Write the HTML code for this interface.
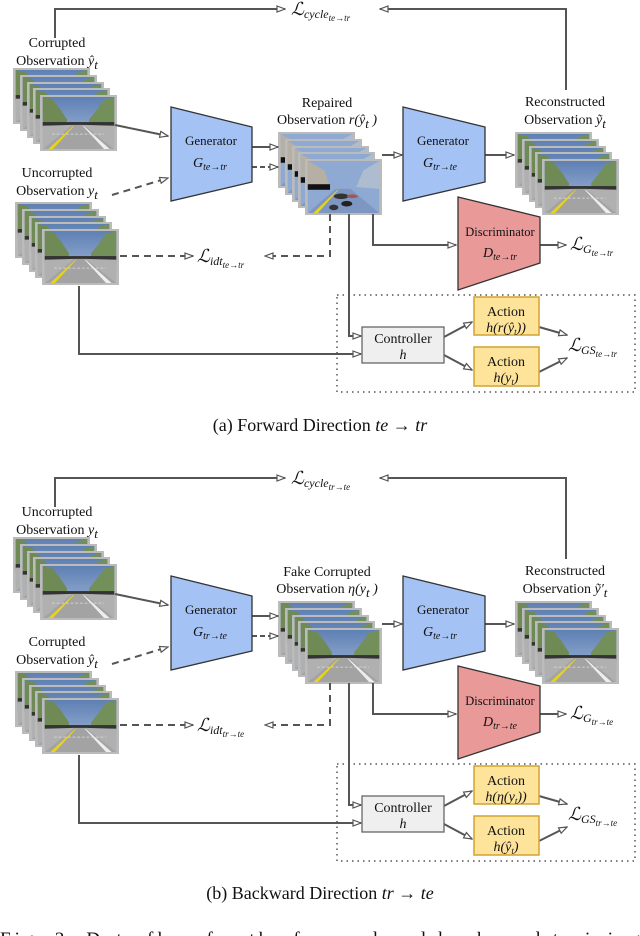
<!DOCTYPE html>
<html><head><meta charset="utf-8"><style>
html,body{margin:0;padding:0;background:#fff;width:640px;height:936px;overflow:hidden}
svg{display:block}
text{font-family:"Liberation Serif",serif;fill:#111}
.m{font-style:italic}
.s{font-size:13px}
</style></head><body>
<svg width="640" height="936" viewBox="0 0 640 936" xmlns="http://www.w3.org/2000/svg">
<defs>
<marker id="ar" markerWidth="10" markerHeight="8" refX="9" refY="4" orient="auto" markerUnits="userSpaceOnUse">
<path d="M1,1 L9,4 L1,7 Z" fill="#fff" stroke="#555" stroke-width="1.2"/></marker>
<linearGradient id="sky" x1="0" y1="0" x2="0" y2="1"><stop offset="0" stop-color="#5f80b4"/><stop offset="1" stop-color="#a9bddb"/></linearGradient>
<symbol id="road" viewBox="0 0 77 56">
<rect width="77" height="56" fill="url(#sky)"/>
<path d="M0,0 L10,2 L18,12 L26,24 L26,30 L0,34 Z" fill="#6f8a55"/>
<path d="M77,0 L66,3 L58,14 L50,24 L50,30 L77,34 Z" fill="#73905a"/>
<rect x="0" y="27" width="77" height="4" fill="#333"/>
<path d="M0,56 L32,30 L44,30 L77,56 Z" fill="#a3a3a3"/>
<path d="M0,31 L32,30 L0,56 Z" fill="#b0b0b0"/>
<path d="M77,31 L44,30 L77,56 Z" fill="#b0b0b0"/>
<path d="M6,56 L33,31 L34,31 L11,56 Z" fill="#e8d21a"/>
<path d="M66,56 L43,31 L44,31 L72,56 Z" fill="#eee"/>
<path d="M10,40 L66,40" stroke="#ddd" stroke-width="0.8" stroke-dasharray="3,2"/>
</symbol>
<symbol id="noisy" viewBox="0 0 77 56">
<rect width="77" height="56" fill="#8ea9d2"/>
<path d="M0,0 L18,10 L24,28 L0,30 Z" fill="#c6b38e" opacity="0.7"/>
<path d="M77,0 L60,10 L52,28 L77,30 Z" fill="#b7c0cf" opacity="0.8"/>
<rect x="0" y="25" width="24" height="6" fill="#111"/>
<path d="M0,56 L30,30 L46,30 L77,56 Z" fill="#7d96c2"/>
<path d="M6,56 L32,31 L33,31 L11,56 Z" fill="#e8d21a"/>
<ellipse cx="36" cy="38" rx="8" ry="3" fill="#333"/>
<ellipse cx="42" cy="46" rx="6" ry="3" fill="#222"/>
<ellipse cx="28" cy="50" rx="5" ry="3" fill="#333"/>
<ellipse cx="48" cy="38" rx="6" ry="2" fill="#a55"/>
</symbol>
<g id="stackR">
<rect x="0" y="0" width="77" height="56" fill="#bbb"/><use href="#road" x="2" y="2" width="73" height="52"/>
<rect x="7" y="7" width="77" height="56" fill="#bbb"/><use href="#road" x="9" y="9" width="73" height="52"/>
<rect x="14" y="14" width="77" height="56" fill="#bbb"/><use href="#road" x="16" y="16" width="73" height="52"/>
<rect x="20" y="20" width="77" height="56" fill="#bbb"/><use href="#road" x="22" y="22" width="73" height="52"/>
<rect x="27" y="27" width="77" height="56" fill="#bbb"/><use href="#road" x="29" y="29" width="73" height="52"/>
</g>
<g id="stackN">
<rect x="0" y="0" width="77" height="56" fill="#bbb"/><use href="#noisy" x="2" y="2" width="73" height="52"/>
<rect x="7" y="7" width="77" height="56" fill="#bbb"/><use href="#noisy" x="9" y="9" width="73" height="52"/>
<rect x="14" y="14" width="77" height="56" fill="#bbb"/><use href="#noisy" x="16" y="16" width="73" height="52"/>
<rect x="20" y="20" width="77" height="56" fill="#bbb"/><use href="#noisy" x="22" y="22" width="73" height="52"/>
<rect x="27" y="27" width="77" height="56" fill="#bbb"/><use href="#noisy" x="29" y="29" width="73" height="52"/>
</g>
<g id="common" stroke="#555" stroke-width="2" fill="none">
<polyline points="55,38 55,9 285,9" marker-end="url(#ar)"/>
<polyline points="566,90 566,9 380,9" marker-end="url(#ar)"/>
<line x1="115" y1="125" x2="168" y2="136" marker-end="url(#ar)"/>
<line x1="112" y1="195" x2="168" y2="178" stroke-dasharray="7,5" marker-end="url(#ar)"/>
<line x1="252" y1="147" x2="278" y2="147" marker-end="url(#ar)"/>
<line x1="252" y1="167" x2="278" y2="167" stroke-dasharray="5,3" marker-end="url(#ar)"/>
<line x1="120" y1="256" x2="193" y2="256" stroke-dasharray="7,5" marker-end="url(#ar)"/>
<polyline points="330,214 330,256 265,256" stroke-dasharray="7,5" marker-end="url(#ar)"/>
<line x1="382" y1="155" x2="402" y2="155" marker-end="url(#ar)"/>
<line x1="485" y1="155" x2="514" y2="155" marker-end="url(#ar)"/>
<polyline points="373,214 373,245 456,245" marker-end="url(#ar)"/>
<line x1="540" y1="245" x2="566" y2="245" marker-end="url(#ar)"/>
<polyline points="349,214 349,336 361,336" marker-end="url(#ar)"/>
<polyline points="79,286 79,354 361,354" marker-end="url(#ar)"/>
<line x1="444" y1="337" x2="472" y2="322" marker-end="url(#ar)"/>
<line x1="444" y1="355" x2="472" y2="370" marker-end="url(#ar)"/>
<line x1="539" y1="327" x2="567" y2="335" marker-end="url(#ar)"/>
<line x1="539" y1="372" x2="567" y2="358" marker-end="url(#ar)"/>
<rect x="337" y="295" width="298" height="97" stroke="#555" stroke-width="1.5" stroke-dasharray="1.5,4"/>
<polygon points="171,107 252,127 252,182 171,201" fill="#a4c2f4" stroke="#333" stroke-width="1.3"/>
<polygon points="403,107 485,127 485,182 403,201" fill="#a4c2f4" stroke="#333" stroke-width="1.3"/>
<polygon points="458,197 540,217 540,263 458,290" fill="#ea9999" stroke="#333" stroke-width="1.3"/>
<rect x="362" y="327" width="82" height="36" fill="#efefef" stroke="#666" stroke-width="1.3"/>
<rect x="474" y="297" width="65" height="38" fill="#fde49a" stroke="#d1a431" stroke-width="1.5"/>
<rect x="474" y="347" width="65" height="39" fill="#fde49a" stroke="#d1a431" stroke-width="1.5"/>
</g>
<g id="ctext" font-size="14">
<text x="211" y="145" text-anchor="middle" font-size="13">Generator</text>
<text x="443" y="145" text-anchor="middle" font-size="13">Generator</text>
<text x="500" y="236" text-anchor="middle" font-size="12.5">Discriminator</text>
<text x="403" y="343" text-anchor="middle">Controller</text>
<text x="403" y="359" text-anchor="middle" class="m">h</text>
<text x="506" y="316" text-anchor="middle">Action</text>
<text x="506" y="366" text-anchor="middle">Action</text>
</g>
</defs>

<use href="#stackR" x="13" y="68"/>
<use href="#stackR" x="15" y="202"/>
<use href="#stackN" x="278" y="132"/>
<use href="#stackR" x="515" y="132"/>
<use href="#common"/>
<use href="#ctext"/>
<g font-size="14">
<text x="57" y="47" text-anchor="middle">Corrupted</text>
<text x="57" y="65" text-anchor="middle">Observation <tspan class="m">ŷ</tspan><tspan class="m s" dy="4">t</tspan></text>
<text x="57" y="177" text-anchor="middle">Uncorrupted</text>
<text x="57" y="195" text-anchor="middle">Observation <tspan class="m">y</tspan><tspan class="m s" dy="4">t</tspan></text>
<text x="327" y="107" text-anchor="middle">Repaired</text>
<text x="327" y="124" text-anchor="middle">Observation <tspan class="m">r(ŷ</tspan><tspan class="m s" dy="4">t</tspan><tspan class="m" dy="-4"> )</tspan></text>
<text x="565" y="106" text-anchor="middle">Reconstructed</text>
<text x="565" y="124" text-anchor="middle">Observation <tspan class="m">ỹ</tspan><tspan class="m s" dy="4">t</tspan></text>
<text x="210" y="167" text-anchor="middle" class="m">G<tspan font-size="10" dy="3">te→tr</tspan></text>
<text x="440" y="167" text-anchor="middle" class="m">G<tspan font-size="10" dy="3">tr→te</tspan></text>
<text x="500" y="257" text-anchor="middle" class="m">D<tspan font-size="10" dy="3">te→tr</tspan></text>
<text x="506" y="332" text-anchor="middle" class="m">h(r(ŷ<tspan font-size="9" dy="3">t</tspan><tspan dy="-3">))</tspan></text>
<text x="506" y="382" text-anchor="middle" class="m">h(y<tspan font-size="9" dy="3">t</tspan><tspan dy="-3">)</tspan></text>
<text x="291" y="15" font-size="18" class="m">ℒ<tspan font-size="12" dy="3">cycle</tspan><tspan font-size="9" dy="3">te→tr</tspan></text>
<text x="197" y="262" font-size="18" class="m">ℒ<tspan font-size="12" dy="3">idt</tspan><tspan font-size="9" dy="3">te→tr</tspan></text>
<text x="570" y="250" font-size="18" class="m">ℒ<tspan font-size="12" dy="3">G</tspan><tspan font-size="9" dy="3">te→tr</tspan></text>
<text x="568" y="351" font-size="18" class="m">ℒ<tspan font-size="12" dy="3">GS</tspan><tspan font-size="9" dy="3">te→tr</tspan></text>
<text x="320" y="431" text-anchor="middle" font-size="18">(a) Forward Direction <tspan class="m">te</tspan> → <tspan class="m">tr</tspan></text>
</g>

<g transform="translate(0,469)">
<use href="#stackR" x="13" y="68"/>
<use href="#stackR" x="15" y="202"/>
<use href="#stackR" x="278" y="132"/>
<use href="#stackR" x="515" y="132"/>
<use href="#common"/>
<use href="#ctext"/>
<g font-size="14">
<text x="57" y="47" text-anchor="middle">Uncorrupted</text>
<text x="57" y="65" text-anchor="middle">Observation <tspan class="m">y</tspan><tspan class="m s" dy="4">t</tspan></text>
<text x="57" y="177" text-anchor="middle">Corrupted</text>
<text x="57" y="195" text-anchor="middle">Observation <tspan class="m">ŷ</tspan><tspan class="m s" dy="4">t</tspan></text>
<text x="327" y="107" text-anchor="middle">Fake Corrupted</text>
<text x="327" y="124" text-anchor="middle">Observation <tspan class="m">η(y</tspan><tspan class="m s" dy="4">t</tspan><tspan class="m" dy="-4"> )</tspan></text>
<text x="565" y="106" text-anchor="middle">Reconstructed</text>
<text x="565" y="124" text-anchor="middle">Observation <tspan class="m">ỹ′</tspan><tspan class="m s" dy="4">t</tspan></text>
<text x="210" y="167" text-anchor="middle" class="m">G<tspan font-size="10" dy="3">tr→te</tspan></text>
<text x="440" y="167" text-anchor="middle" class="m">G<tspan font-size="10" dy="3">te→tr</tspan></text>
<text x="500" y="257" text-anchor="middle" class="m">D<tspan font-size="10" dy="3">tr→te</tspan></text>
<text x="506" y="332" text-anchor="middle" class="m">h(η(y<tspan font-size="9" dy="3">t</tspan><tspan dy="-3">))</tspan></text>
<text x="506" y="382" text-anchor="middle" class="m">h(ŷ<tspan font-size="9" dy="3">t</tspan><tspan dy="-3">)</tspan></text>
<text x="291" y="15" font-size="18" class="m">ℒ<tspan font-size="12" dy="3">cycle</tspan><tspan font-size="9" dy="3">tr→te</tspan></text>
<text x="197" y="262" font-size="18" class="m">ℒ<tspan font-size="12" dy="3">idt</tspan><tspan font-size="9" dy="3">tr→te</tspan></text>
<text x="570" y="250" font-size="18" class="m">ℒ<tspan font-size="12" dy="3">G</tspan><tspan font-size="9" dy="3">tr→te</tspan></text>
<text x="568" y="351" font-size="18" class="m">ℒ<tspan font-size="12" dy="3">GS</tspan><tspan font-size="9" dy="3">tr→te</tspan></text>
<text x="320" y="430" text-anchor="middle" font-size="18">(b) Backward Direction <tspan class="m">tr</tspan> → <tspan class="m">te</tspan></text>
</g>
</g>
<text x="0" y="945" font-size="19" textLength="640" lengthAdjust="spacing">Fig. 3: Data flow for the forward and backward training</text>
</svg>
</body></html>
